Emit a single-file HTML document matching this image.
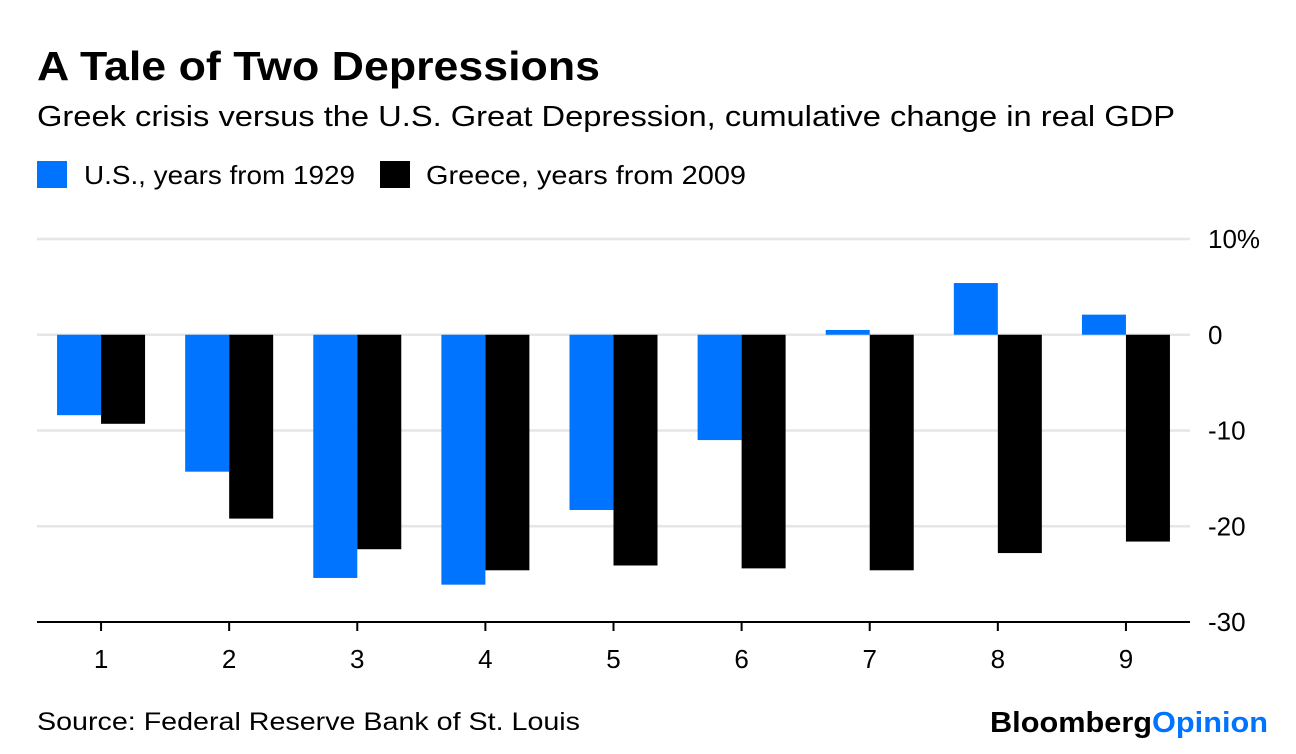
<!DOCTYPE html>
<html><head><meta charset="utf-8"><style>
html,body{margin:0;padding:0;background:#fff;width:1296px;height:754px;overflow:hidden}
body{font-family:"Liberation Sans",sans-serif;color:#000}
</style></head><body>
<svg width="1296" height="754" xmlns="http://www.w3.org/2000/svg" font-family="Liberation Sans, sans-serif">
<text x="37" y="80" font-size="41" font-weight="bold" textLength="563" lengthAdjust="spacingAndGlyphs">A Tale of Two Depressions</text>
<text x="37" y="126" font-size="29" textLength="1138" lengthAdjust="spacingAndGlyphs">Greek crisis versus the U.S. Great Depression, cumulative change in real GDP</text>
<rect x="37" y="161" width="30" height="27" fill="#0073ff"/>
<text x="84" y="184" font-size="26" textLength="271" lengthAdjust="spacingAndGlyphs">U.S., years from 1929</text>
<rect x="380" y="161" width="30" height="27" fill="#000"/>
<text x="426" y="184" font-size="26" textLength="320" lengthAdjust="spacingAndGlyphs">Greece, years from 2009</text>
<g id="grid"></g><g id="bars"></g><g id="axes"></g>
<text x="37" y="730" font-size="25" textLength="543" lengthAdjust="spacingAndGlyphs">Source: Federal Reserve Bank of St. Louis</text>
<text x="990" y="732" font-size="29" font-weight="bold" textLength="278" lengthAdjust="spacingAndGlyphs">Bloomberg<tspan fill="#0073ff">Opinion</tspan></text>
</svg>
<script>
const categories=["1","2","3","4","5","6","7","8","9"];
const usValues=[-8.4,-14.3,-25.4,-26.1,-18.3,-11.0,0.5,5.4,2.1];
const greeceValues=[-9.3,-19.2,-22.4,-24.6,-24.1,-24.4,-24.6,-22.8,-21.6];
const yTicks=[10,0,-10,-20,-30];
const yTickLabels=["10%","0","-10","-20","-30"];
const NS="http://www.w3.org/2000/svg";
const L=37,R=1190,yTop=239,yBot=622;
const y=v=>yTop+(10-v)/40*(yBot-yTop);
const band=(R-L)/categories.length;
const xc=i=>L+band*(i+0.5);
function mk(t,a,p){const e=document.createElementNS(NS,t);for(const k in a)e.setAttribute(k,a[k]);p.appendChild(e);return e;}
const grid=document.getElementById('grid'),bars=document.getElementById('bars'),axes=document.getElementById('axes');
yTicks.forEach((t,i)=>{
 if(t!==-30){const g=mk('line',{x1:L,x2:R,y1:y(t),y2:y(t),stroke:'#e6e6e6','stroke-width':2.5},grid);
 
 }
 const tx=mk('text',{x:1208,y:y(t)+9,'font-size':26},axes);tx.textContent=yTickLabels[i];
 
 
});
const bw=44;
categories.forEach((c,i)=>{
 const u=usValues[i],g=greeceValues[i];
 const b1=mk('rect',{x:xc(i)-bw,y:Math.min(y(u),y(0)),width:bw,height:Math.abs(y(u)-y(0)),fill:'#0073ff'},bars);
 
 
 const b2=mk('rect',{x:xc(i),y:Math.min(y(g),y(0)),width:bw,height:Math.abs(y(g)-y(0)),fill:'#000'},bars);
 
 
 const tk=mk('line',{x1:xc(i),x2:xc(i),y1:yBot,y2:yBot+9,stroke:'#000','stroke-width':2},axes);
 
 
 const lb=mk('text',{x:xc(i),y:yBot+46,'font-size':26,'text-anchor':'middle'},axes);lb.textContent=c;
 
 
});
const ax=mk('line',{x1:L,x2:R,y1:yBot,y2:yBot,stroke:'#000','stroke-width':2},axes);


</script>
</body></html>
